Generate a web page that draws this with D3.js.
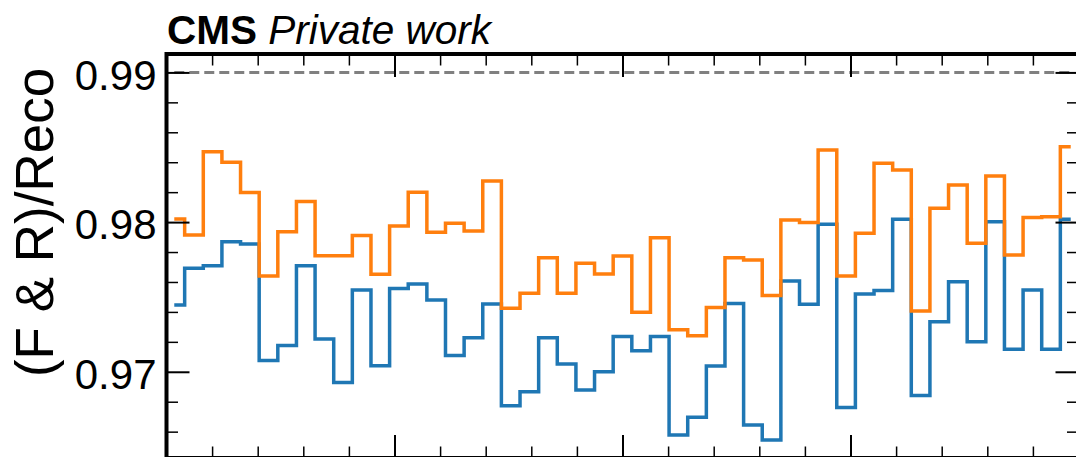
<!DOCTYPE html>
<html>
<head>
<meta charset="utf-8">
<script src="https://cdn.jsdelivr.net/npm/d3@7"></script>
<style>
  html, body { margin: 0; padding: 0; background: #fff; }
  svg { display: block; }
  text { font-family: "Liberation Sans", Arial, Helvetica, sans-serif; fill: #000; }
</style>
</head>
<body>
<svg id="chart" width="1076" height="457"></svg>
<script>
// Azimuthal bin edges (rad): a narrow bin at each end, uniform bins in between
const binEdges = [
  -3.088, -3.0165, -2.8881, -2.7598, -2.6314, -2.5031, -2.3747, -2.2463, -2.1180,
  -1.9896, -1.8613, -1.7329, -1.6045, -1.4762, -1.3478, -1.2195, -1.0911, -0.9627,
  -0.8344, -0.7060, -0.5777, -0.4493, -0.3209, -0.1926, -0.0642, 0.0642, 0.1926,
  0.3209, 0.4493, 0.5777, 0.7060, 0.8344, 0.9627, 1.0911, 1.2195, 1.3478, 1.4762,
  1.6045, 1.7329, 1.8613, 1.9896, 2.1180, 2.2463, 2.3747, 2.5031, 2.6314, 2.7598,
  2.8881, 3.0165, 3.088
];

// Ratio per bin, first selection
const ratioBlue = [
  0.97446, 0.97691, 0.97709, 0.97869, 0.97854, 0.97075, 0.97175, 0.97709, 0.97219,
  0.96928, 0.97546, 0.97041, 0.97557, 0.97586, 0.97479, 0.97108, 0.97228, 0.97453,
  0.96773, 0.96867, 0.97228, 0.97052, 0.96878, 0.97000, 0.97235, 0.97141, 0.97235,
  0.96578, 0.96696, 0.97039, 0.97457, 0.96645, 0.96545, 0.97606, 0.97451, 0.97985,
  0.96761, 0.97520, 0.97543, 0.98019, 0.96841, 0.97335, 0.97602, 0.97201, 0.98003,
  0.97150, 0.97546, 0.97150, 0.98019
];

// Ratio per bin, second selection
const ratioOrange = [
  0.98021, 0.97914, 0.98470, 0.98399, 0.98197, 0.97640, 0.97936, 0.98137, 0.97776,
  0.97776, 0.97910, 0.97651, 0.97974, 0.98199, 0.97932, 0.97992, 0.97940, 0.98274,
  0.97424, 0.97524, 0.97762, 0.97524, 0.97725, 0.97653, 0.97774, 0.97397, 0.97896,
  0.97280, 0.97240, 0.97429, 0.97762, 0.97747, 0.97509, 0.98014, 0.97998, 0.98481,
  0.97640, 0.97925, 0.98393, 0.98348, 0.97406, 0.98092, 0.98248, 0.97858, 0.98308,
  0.97780, 0.98030, 0.98036, 0.98504
];

const yTickValues = [0.97, 0.98, 0.99];
const yTickLabels = ["0.97", "0.98", "0.99"];
const referenceLevel = 0.99;

const titleBold = "CMS";
const titleItalic = "Private work";
const yTitle = "(F & R)/Reco";

// Layout
const plot = { left: 166.5, right: 1078.5, top: 54, bottom: 458 };
const svg = d3.select("#chart");

const x = d3.scaleLinear().domain([-Math.PI, Math.PI]).range([plot.left, plot.right]);
const y = d3.scaleLinear().domain([0.96424, 0.99123]).range([plot.bottom, plot.top]);

const xMajor = d3.range(-2, 3).map(k => k * Math.PI / 2);
const xMinor = d3.range(-10, 11).map(k => k * Math.PI / 10)
  .filter(v => !xMajor.some(m => Math.abs(m - v) < 1e-9));
const yMinor = d3.range(0.966, 0.9911, 0.002).map(v => +v.toFixed(3))
  .filter(v => !yTickValues.some(m => Math.abs(m - v) < 1e-9));

const MAJOR = 23, MINOR = 11.5;

function tickAxis(axisFn, scale, values, size, width, tx, ty) {
  const g = svg.append("g")
    .attr("transform", `translate(${tx},${ty})`)
    .call(axisFn(scale).tickValues(values).tickSize(-size).tickFormat(""));
  g.select(".domain").remove();
  g.selectAll(".tick line").attr("stroke", "#000").attr("stroke-width", width);
  return g;
}

// Reference level
svg.append("line")
  .attr("x1", x(binEdges[0])).attr("x2", x(binEdges[binEdges.length - 1]))
  .attr("y1", y(referenceLevel)).attr("y2", y(referenceLevel))
  .attr("stroke", "#808080").attr("stroke-width", 3)
  .attr("stroke-dasharray", "10,5");

// Step histograms
function stepPoints(vals) {
  const pts = vals.map((v, i) => [binEdges[i], v]);
  pts.push([binEdges[vals.length], vals[vals.length - 1]]);
  return pts;
}
const stepLine = d3.line()
  .x(d => x(d[0])).y(d => y(d[1]))
  .curve(d3.curveStepAfter);

[[ratioBlue, "#1f77b4"], [ratioOrange, "#ff7f0e"]].forEach(([vals, color]) => {
  svg.append("path")
    .datum(stepPoints(vals))
    .attr("d", stepLine)
    .attr("fill", "none")
    .attr("stroke", color)
    .attr("stroke-width", 3.5)
    .attr("stroke-linejoin", "miter");
});

// Inward ticks on all four sides
tickAxis(d3.axisLeft, y, yMinor, MINOR, 1.5, plot.left, 0);
tickAxis(d3.axisRight, y, yMinor, MINOR, 1.5, plot.right, 0);
tickAxis(d3.axisRight, y, yTickValues, MAJOR, 2, plot.right, 0);
tickAxis(d3.axisTop, x, xMinor, MINOR, 1.5, 0, plot.top);
tickAxis(d3.axisTop, x, xMajor, MAJOR, 2, 0, plot.top);
tickAxis(d3.axisBottom, x, xMinor, MINOR, 1.5, 0, plot.bottom);
tickAxis(d3.axisBottom, x, xMajor, MAJOR, 2, 0, plot.bottom);

// Left axis with labels
const yAxis = svg.append("g")
  .attr("transform", `translate(${plot.left},0)`)
  .call(d3.axisLeft(y).tickValues(yTickValues).tickSize(-MAJOR).tickPadding(10)
    .tickFormat((d, i) => yTickLabels[i]));
yAxis.select(".domain").remove();
yAxis.selectAll(".tick line").attr("stroke", "#000").attr("stroke-width", 2);
yAxis.selectAll(".tick text")
  .attr("font-size", 42)
  .attr("dy", "0.40em")
  .style("font-family", "'Liberation Sans', Arial, sans-serif")
  .attr("fill", "#000");

// Frame
svg.append("rect")
  .attr("x", plot.left).attr("y", plot.top)
  .attr("width", plot.right - plot.left).attr("height", plot.bottom - plot.top)
  .attr("fill", "none").attr("stroke", "#000").attr("stroke-width", 4);

// Axis title
svg.append("text")
  .attr("transform", `translate(52.5,${(68 + 377) / 2}) rotate(-90)`)
  .attr("text-anchor", "middle")
  .attr("font-size", 53)
  .text(yTitle);

// Experiment label
const title = svg.append("text")
  .attr("x", 167).attr("y", 44)
  .attr("font-size", 40.5);
title.append("tspan").attr("font-weight", "bold").text(titleBold);
title.append("tspan").attr("font-style", "italic").text(" " + titleItalic);
</script>
</body>
</html>
